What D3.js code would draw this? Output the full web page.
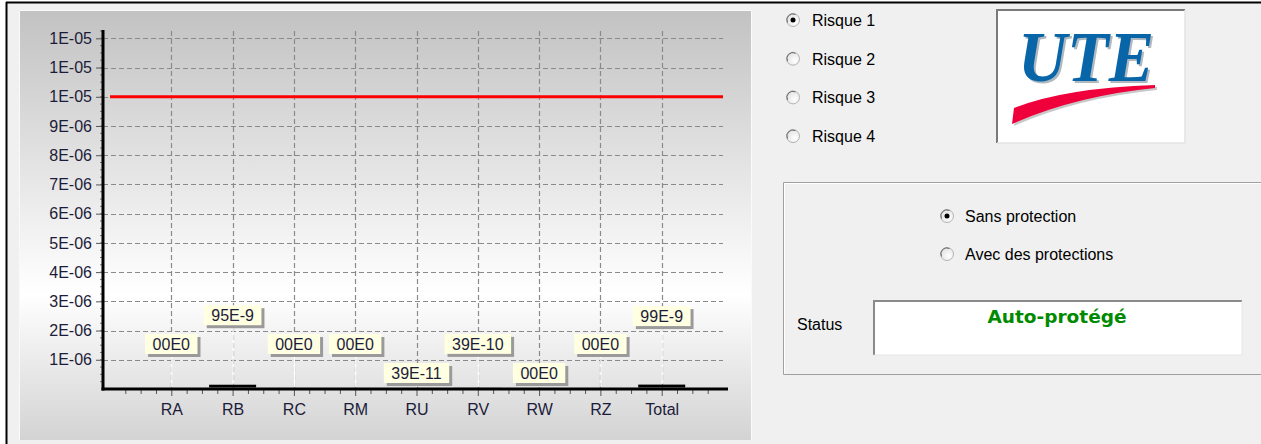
<!DOCTYPE html>
<html>
<head>
<meta charset="utf-8">
<script src="https://cdn.jsdelivr.net/npm/d3@7"></script>
<style>
  body { margin: 0; background: #fff; }
  svg { display: block; font-family: 'Liberation Sans', Arial, sans-serif; }
</style>
</head>
<body>
<div class="svg-container"></div>
<script>
// chart values
const categories = ['RA', 'RB', 'RC', 'RM', 'RU', 'RV', 'RW', 'RZ', 'Total'];
const riskValues = [0, 95e-9, 0, 0, 39e-11, 39e-10, 0, 0, 99.3e-9];
const tolerableRisk = 1e-5;
const yTickValues = [1e-6, 2e-6, 3e-6, 4e-6, 5e-6, 6e-6, 7e-6, 8e-6, 9e-6, 1e-5, 1.1e-5, 1.2e-5];
const yTickLabels = ['1E-06', '2E-06', '3E-06', '4E-06', '5E-06', '6E-06', '7E-06', '8E-06', '9E-06', '1E-05', '1E-05', '1E-05'];
const riskOptions = ['Risque 1', 'Risque 2', 'Risque 3', 'Risque 4'];
const protectionOptions = ['Sans protection', 'Avec des protections'];
const statusText = 'Auto-protégé';

// how far each mark label sits above its bar (px), avoids overlaps like the original
const labelLift = [35, 61, 35, 35, 6, 35, 6, 35, 60];

const width = 1261;
const height = 444;
const textColor = '#1c1c3a';

// "00E0" style: two digit mantissa, integer exponent
const formatMark = v => {
  if (v === 0) return '00E0';
  const e = Math.floor(Math.log10(v)) - 1;
  const m = Math.round(v / Math.pow(10, e));
  return `${m}E${e}`;
};

const svg = d3.select('.svg-container')
  .append('svg')
  .attr('width', width)
  .attr('height', height);

// window background + frame
svg.append('rect').attr('x', 7).attr('y', 3).attr('width', width - 7).attr('height', height - 3).style('fill', '#f0f0f0');
svg.append('line').attr('x1', 6).attr('x2', width).attr('y1', 2.5).attr('y2', 2.5).attr('stroke', '#000').attr('stroke-width', 2);
svg.append('line').attr('x1', 6.5).attr('x2', 6.5).attr('y1', 2).attr('y2', height).attr('stroke', '#000').attr('stroke-width', 2);

// chart panel gradient
const defs = svg.append('defs');
const grad = defs.append('linearGradient').attr('id', 'panelGrad').attr('x1', 0).attr('x2', 0).attr('y1', 0).attr('y2', 1);
grad.append('stop').attr('offset', '0%').attr('stop-color', '#c2c2c2');
grad.append('stop').attr('offset', '66%').attr('stop-color', '#ffffff');
grad.append('stop').attr('offset', '100%').attr('stop-color', '#d3d3d3');

const radioGrad = defs.append('radialGradient').attr('id', 'radioGrad').attr('cx', '65%').attr('cy', '65%').attr('r', '70%');
radioGrad.append('stop').attr('offset', '0%').attr('stop-color', '#ffffff');
radioGrad.append('stop').attr('offset', '100%').attr('stop-color', '#e2e2e2');

svg.append('rect')
  .attr('x', 19).attr('y', 10).attr('width', 732).attr('height', 430)
  .style('fill', 'url(#panelGrad)');
svg.append('path')
  .attr('d', 'M19.5,440 V10.5 H751.5 V440')
  .attr('fill', 'none').attr('stroke', '#fafafa').attr('stroke-width', 1);

// scales
const x = d3.scaleLinear().domain([0, 10]).range([110, 723]);
const y = d3.scaleLinear().domain([0, 1.2285e-5]).range([389, 30]);
const axisLeftX = 103;
const gridRight = 723;

// grid
const grid = svg.append('g')
  .attr('stroke', '#8a8a8a')
  .attr('stroke-width', 1.2)
  .attr('stroke-dasharray', '5,3');

grid.selectAll('.hgrid')
  .data(yTickValues)
  .enter()
  .append('line')
  .attr('x1', axisLeftX)
  .attr('x2', gridRight)
  .attr('y1', d => Math.round(y(d)) + 0.5)
  .attr('y2', d => Math.round(y(d)) + 0.5);

grid.selectAll('.vgrid')
  .data(categories)
  .enter()
  .append('line')
  .attr('x1', (d, i) => Math.round(x(i + 1)) + 0.5)
  .attr('x2', (d, i) => Math.round(x(i + 1)) + 0.5)
  .attr('y1', 31)
  .attr('y2', y(0));

// threshold line
svg.append('line')
  .attr('x1', x(0))
  .attr('x2', x(10))
  .attr('y1', y(tolerableRisk))
  .attr('y2', y(tolerableRisk))
  .attr('stroke', '#ff0000')
  .attr('stroke-width', 3);

// bars
const barWidth = 47;
svg.append('g')
  .selectAll('rect')
  .data(riskValues)
  .enter()
  .append('rect')
  .attr('x', (d, i) => x(i + 1) - barWidth / 2)
  .attr('y', d => y(d) - 1.5)
  .attr('width', barWidth)
  .attr('height', d => y(0) - y(d))
  .style('fill', '#000');

// y axis ticks and labels
const yAxis = svg.append('g')
  .attr('transform', `translate(${axisLeftX},0)`)
  .call(d3.axisLeft(y)
    .tickValues(yTickValues)
    .tickFormat((d, i) => yTickLabels[i])
    .tickSize(7)
    .tickPadding(4));
yAxis.select('.domain').remove();
yAxis.selectAll('line').attr('stroke', '#555');
yAxis.selectAll('text')
  .style('font-size', '16px')
  .style('fill', textColor);

// y minor ticks
const yMinor = d3.range(0.25e-6, 1.2285e-5, 0.25e-6);
svg.append('g')
  .selectAll('line')
  .data(yMinor)
  .enter()
  .append('line')
  .attr('x1', axisLeftX - 3)
  .attr('x2', axisLeftX)
  .attr('y1', d => y(d))
  .attr('y2', d => y(d))
  .attr('stroke', '#777');

// x axis ticks and labels
const xAxis = svg.append('g')
  .attr('transform', `translate(0,${y(0)})`)
  .call(d3.axisBottom(x)
    .tickValues(d3.range(1, 10))
    .tickFormat(d => categories[d - 1])
    .tickSize(7)
    .tickPadding(8));
xAxis.select('.domain').remove();
xAxis.selectAll('line').attr('stroke', '#555');
xAxis.selectAll('text')
  .style('font-size', '16px')
  .style('fill', textColor);

const xMinor = d3.range(0.25, 10, 0.25).filter(d => d % 1 !== 0);
const xMinorAxis = svg.append('g')
  .attr('transform', `translate(0,${y(0)})`)
  .call(d3.axisBottom(x).tickValues(xMinor).tickFormat('').tickSize(5));
xMinorAxis.select('.domain').remove();
xMinorAxis.selectAll('line').attr('stroke', '#555');

// axis lines
svg.append('line')
  .attr('x1', axisLeftX).attr('x2', axisLeftX)
  .attr('y1', 30).attr('y2', y(0) + 1.5)
  .attr('stroke', '#000').attr('stroke-width', 3);
svg.append('line')
  .attr('x1', axisLeftX - 1.5).attr('x2', 728)
  .attr('y1', y(0)).attr('y2', y(0))
  .attr('stroke', '#000').attr('stroke-width', 3);

// mark labels
const boxH = 20;
const marks = svg.append('g')
  .selectAll('g')
  .data(riskValues)
  .enter()
  .append('g')
  .attr('transform', (d, i) => `translate(${x(i + 1)},${y(d) - labelLift[i]})`);

marks.append('line')
  .attr('x1', 0.5).attr('x2', 0.5)
  .attr('y1', 0)
  .attr('y2', (d, i) => labelLift[i] - 2)
  .attr('stroke', '#fff')
  .attr('stroke-width', 1.2);

marks.each(function(d) {
  const g = d3.select(this);
  const label = g.append('text')
    .attr('y', -boxH / 2)
    .attr('dy', '0.36em')
    .attr('text-anchor', 'middle')
    .style('font-size', '16px')
    .style('fill', textColor)
    .text(formatMark(d));
  const w = label.node().getComputedTextLength() + 15;
  g.insert('rect', 'text')
    .attr('x', -w / 2 + 3).attr('y', -boxH + 3)
    .attr('width', w).attr('height', boxH)
    .style('fill', '#9a9a9a');
  g.insert('rect', 'text')
    .attr('x', -w / 2).attr('y', -boxH)
    .attr('width', w).attr('height', boxH)
    .style('fill', '#ffffe1');
});

// ---- right side controls ----
const drawRadio = (cx, cy, checked) => {
  svg.append('circle')
    .attr('cx', cx).attr('cy', cy).attr('r', 6.5)
    .style('fill', 'url(#radioGrad)')
    .attr('stroke', '#b4b4b4').attr('stroke-width', 1);
  svg.append('path')
    .attr('d', `M${cx - 5.5},${cy + 2.5} A6,6 0 0 1 ${cx + 2.5},${cy - 5.5}`)
    .attr('fill', 'none').attr('stroke', '#6a6a6a').attr('stroke-width', 1);
  if (checked) {
    svg.append('circle').attr('cx', cx).attr('cy', cy).attr('r', 2.5).style('fill', '#000');
  }
};

riskOptions.forEach((name, i) => {
  const cy = 20 + i * 38.7;
  drawRadio(793, cy, i === 0);
  svg.append('text')
    .attr('x', 812).attr('y', cy + 6)
    .style('font-size', '16px').style('fill', '#000')
    .text(name);
});

// logo
svg.append('rect').attr('x', 996).attr('y', 9).attr('width', 189).attr('height', 134).style('fill', '#fff');
svg.append('path').attr('d', 'M997,143 V10 H1185').attr('fill', 'none').attr('stroke', '#7a7a7a').attr('stroke-width', 2);
svg.append('path').attr('d', 'M1185,10 V143 H997').attr('fill', 'none').attr('stroke', '#e4e4e4').attr('stroke-width', 1.5);
svg.append('text')
  .attr('x', 1086).attr('y', 81)
  .attr('text-anchor', 'middle')
  .attr('textLength', 136)
  .attr('lengthAdjust', 'spacingAndGlyphs')
  .style('font-family', "'Liberation Serif', 'DejaVu Serif', serif")
  .style('font-style', 'italic').style('font-weight', 'bold')
  .style('font-size', '72px')
  .style('fill', '#b0b8c0')
  .attr('transform', 'translate(2,2)')
  .text('UTE');
svg.append('text')
  .attr('x', 1086).attr('y', 81)
  .attr('text-anchor', 'middle')
  .attr('textLength', 136)
  .attr('lengthAdjust', 'spacingAndGlyphs')
  .style('font-family', "'Liberation Serif', 'DejaVu Serif', serif")
  .style('font-style', 'italic').style('font-weight', 'bold')
  .style('font-size', '72px')
  .style('fill', '#0765a8')
  .text('UTE');
svg.append('path')
  .attr('d', 'M1014,108 Q1065,88 1155,85 L1155,88 Q1075,96 1012,124 Z')
  .attr('transform', 'translate(2,2)')
  .style('fill', '#c8c8c8');
svg.append('path')
  .attr('d', 'M1014,108 Q1065,88 1155,85 L1155,88 Q1075,96 1012,124 Z')
  .style('fill', '#f0003a');

// group box
svg.append('path')
  .attr('d', `M${width},182.5 H783.5 V374.5 H${width}`)
  .attr('fill', 'none').attr('stroke', '#a0a0a0').attr('stroke-width', 1);
svg.append('path')
  .attr('d', `M${width},183.5 H784.5 V373.5`)
  .attr('fill', 'none').attr('stroke', '#ffffff').attr('stroke-width', 1);

protectionOptions.forEach((name, i) => {
  const cy = 216 + i * 38;
  drawRadio(947, cy, i === 0);
  svg.append('text')
    .attr('x', 965).attr('y', cy + 6)
    .style('font-size', '16px').style('fill', '#000')
    .text(name);
});

svg.append('text')
  .attr('x', 797).attr('y', 330)
  .style('font-size', '16px').style('fill', '#000')
  .text('Status');

svg.append('rect').attr('x', 873).attr('y', 300).attr('width', 369).attr('height', 55).style('fill', '#fff');
svg.append('path').attr('d', 'M874,355 V301 H1242').attr('fill', 'none').attr('stroke', '#8a8a8a').attr('stroke-width', 2);
svg.append('path').attr('d', 'M1242,301 V355 H874').attr('fill', 'none').attr('stroke', '#e6e6e6').attr('stroke-width', 1);
svg.append('text')
  .attr('x', 1057).attr('y', 323)
  .attr('text-anchor', 'middle')
  .style('font-family', "'DejaVu Sans', Verdana, sans-serif")
  .style('font-weight', 'bold')
  .style('font-size', '18.5px')
  .style('fill', '#008a00')
  .text(statusText);
</script>
</body>
</html>
